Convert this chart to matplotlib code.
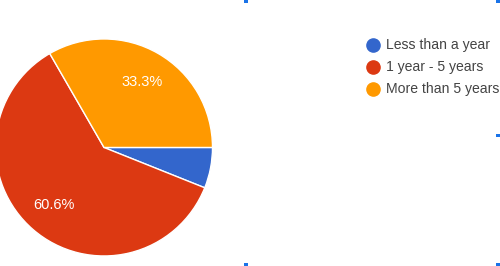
import matplotlib.pyplot as plt
from matplotlib.lines import Line2D
from matplotlib.patches import Rectangle

plt.rcParams['font.family'] = ['Liberation Sans', 'DejaVu Sans']

# responses
labels = ['Less than a year', '1 year - 5 years', 'More than 5 years']
counts = [2, 20, 11]
colors = ['#3366CC', '#DC3912', '#FF9900']

fig = plt.figure(figsize=(5, 2.66), dpi=100)
ax = fig.add_axes([-0.009, 0.0376, 0.434, 0.816])

def pct(p):
	if p < 10:
		return ''
	return '%.1f%%' % p

wedges, texts, autotexts = ax.pie(counts, colors=colors, startangle=0, counterclock=False,
	autopct=pct, pctdistance=0.7,
	wedgeprops={'edgecolor': 'white', 'linewidth': 1})
for t in autotexts:
	t.set_color('white')
	t.set_fontsize(10.5)
ax.set_xlim(-1, 1)
ax.set_ylim(-1, 1)
ax.set_aspect('equal')

handles = [Line2D([], [], marker='o', linestyle='', markersize=9.5, markerfacecolor=c, markeredgecolor=c) for c in colors]
fig.legend(handles, labels, loc='upper left', bbox_to_anchor=(0.706, 0.903), frameon=False,
	fontsize=10.1, handlelength=1.0, handletextpad=0.45, labelspacing=0.57, labelcolor='#444444')

# selection handles from the screenshot
for x, y in [(244, 263), (496, 263), (496, 129), (244, 0), (496, 0)]:
	fig.patches.append(Rectangle((x / 500, y / 266), 4 / 500, 3 / 266, transform=fig.transFigure,
		color='#1a73e8', lw=0))

fig.savefig('out.png', dpi=100)
